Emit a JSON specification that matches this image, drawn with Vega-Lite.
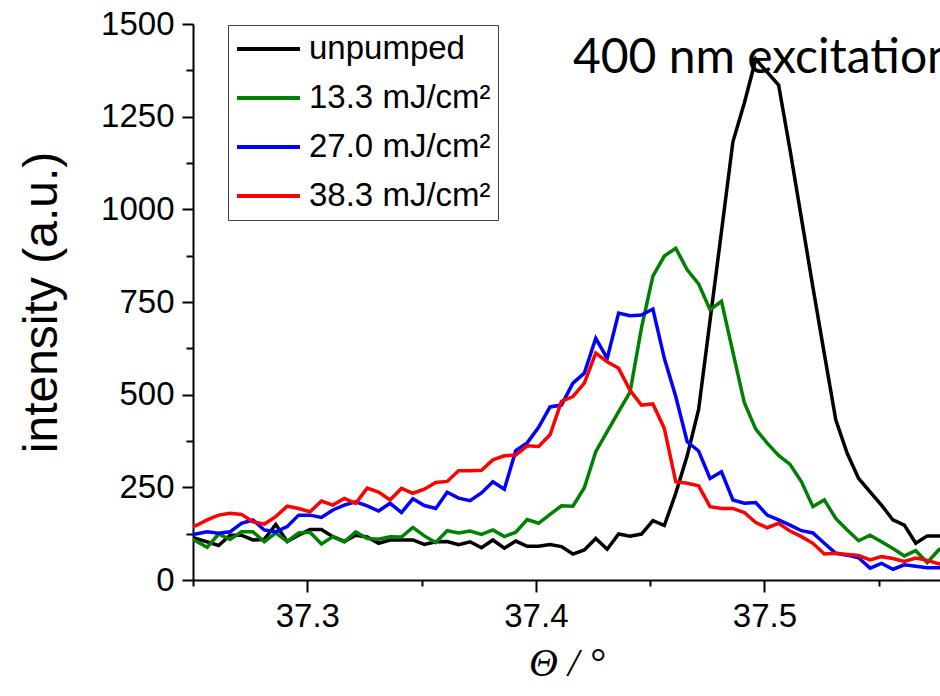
{
  "$schema": "https://vega.github.io/schema/vega-lite/v6.json",
  "width": 747,
  "height": 556,
  "autosize": {"type": "none"},
  "padding": {"left": 193, "top": 24, "right": 0, "bottom": 116},
  "background": "white",
  "config": {
    "view": {"stroke": null},
    "axis": {
      "grid": false,
      "domainColor": "black",
      "domainWidth": 2,
      "tickColor": "black",
      "tickWidth": 2,
      "labelFont": "Liberation Sans",
      "labelFontSize": 33,
      "labelColor": "black",
      "titleColor": "black",
      "titleFontWeight": "normal"
    },
    "legend": {"strokeColor": "#444444", "fillColor": "white"}
  },
  "datasets": {
    "curves": [
      {"theta":37.2462,"intensity":125,"series":"unpumped"},{"theta":37.2512,"intensity":112,"series":"unpumped"},{"theta":37.2562,"intensity":103,"series":"unpumped"},{"theta":37.2612,"intensity":93,"series":"unpumped"},{"theta":37.2662,"intensity":121,"series":"unpumped"},{"theta":37.2712,"intensity":121,"series":"unpumped"},{"theta":37.2762,"intensity":108,"series":"unpumped"},{"theta":37.2812,"intensity":110,"series":"unpumped"},{"theta":37.2862,"intensity":150,"series":"unpumped"},{"theta":37.2912,"intensity":104,"series":"unpumped"},
      {"theta":37.2962,"intensity":121,"series":"unpumped"},{"theta":37.3012,"intensity":136,"series":"unpumped"},{"theta":37.3062,"intensity":136,"series":"unpumped"},{"theta":37.3112,"intensity":117,"series":"unpumped"},{"theta":37.3162,"intensity":104,"series":"unpumped"},{"theta":37.3212,"intensity":121,"series":"unpumped"},{"theta":37.3262,"intensity":116,"series":"unpumped"},{"theta":37.3312,"intensity":99,"series":"unpumped"},{"theta":37.3362,"intensity":108,"series":"unpumped"},{"theta":37.3412,"intensity":108,"series":"unpumped"},
      {"theta":37.3462,"intensity":108,"series":"unpumped"},{"theta":37.3512,"intensity":96,"series":"unpumped"},{"theta":37.3562,"intensity":103,"series":"unpumped"},{"theta":37.3612,"intensity":104,"series":"unpumped"},{"theta":37.3662,"intensity":95,"series":"unpumped"},{"theta":37.3712,"intensity":103,"series":"unpumped"},{"theta":37.3762,"intensity":87,"series":"unpumped"},{"theta":37.3812,"intensity":108,"series":"unpumped"},{"theta":37.3862,"intensity":86,"series":"unpumped"},{"theta":37.3912,"intensity":105,"series":"unpumped"},
      {"theta":37.3962,"intensity":91,"series":"unpumped"},{"theta":37.4012,"intensity":91,"series":"unpumped"},{"theta":37.4062,"intensity":96,"series":"unpumped"},{"theta":37.4112,"intensity":90,"series":"unpumped"},{"theta":37.4162,"intensity":70,"series":"unpumped"},{"theta":37.4212,"intensity":81,"series":"unpumped"},{"theta":37.4262,"intensity":112,"series":"unpumped"},{"theta":37.4312,"intensity":83,"series":"unpumped"},{"theta":37.4362,"intensity":124,"series":"unpumped"},{"theta":37.4412,"intensity":118,"series":"unpumped"},
      {"theta":37.4462,"intensity":124,"series":"unpumped"},{"theta":37.4512,"intensity":160,"series":"unpumped"},{"theta":37.4562,"intensity":147,"series":"unpumped"},{"theta":37.4612,"intensity":234,"series":"unpumped"},{"theta":37.4662,"intensity":335,"series":"unpumped"},{"theta":37.4712,"intensity":460,"series":"unpumped"},{"theta":37.4762,"intensity":700,"series":"unpumped"},{"theta":37.4812,"intensity":940,"series":"unpumped"},{"theta":37.4862,"intensity":1182,"series":"unpumped"},{"theta":37.4912,"intensity":1287,"series":"unpumped"},
      {"theta":37.4962,"intensity":1405,"series":"unpumped"},{"theta":37.5012,"intensity":1370,"series":"unpumped"},{"theta":37.5062,"intensity":1335,"series":"unpumped"},{"theta":37.5112,"intensity":1160,"series":"unpumped"},{"theta":37.5162,"intensity":975,"series":"unpumped"},{"theta":37.5212,"intensity":790,"series":"unpumped"},{"theta":37.5262,"intensity":610,"series":"unpumped"},{"theta":37.5312,"intensity":432,"series":"unpumped"},{"theta":37.5362,"intensity":342,"series":"unpumped"},{"theta":37.5412,"intensity":274,"series":"unpumped"},
      {"theta":37.5462,"intensity":238,"series":"unpumped"},{"theta":37.5512,"intensity":202,"series":"unpumped"},{"theta":37.5562,"intensity":162,"series":"unpumped"},{"theta":37.5612,"intensity":148,"series":"unpumped"},{"theta":37.5662,"intensity":99,"series":"unpumped"},{"theta":37.5712,"intensity":119,"series":"unpumped"},{"theta":37.5762,"intensity":119,"series":"unpumped"},{"theta":37.5812,"intensity":118,"series":"unpumped"},

      {"theta":37.2462,"intensity":120,"series":"13.3 mJ/cm²"},{"theta":37.2512,"intensity":105,"series":"13.3 mJ/cm²"},{"theta":37.2562,"intensity":88,"series":"13.3 mJ/cm²"},{"theta":37.2612,"intensity":124,"series":"13.3 mJ/cm²"},{"theta":37.2662,"intensity":109,"series":"13.3 mJ/cm²"},{"theta":37.2712,"intensity":130,"series":"13.3 mJ/cm²"},{"theta":37.2762,"intensity":130,"series":"13.3 mJ/cm²"},{"theta":37.2812,"intensity":103,"series":"13.3 mJ/cm²"},{"theta":37.2862,"intensity":127,"series":"13.3 mJ/cm²"},{"theta":37.2912,"intensity":104,"series":"13.3 mJ/cm²"},
      {"theta":37.2962,"intensity":127,"series":"13.3 mJ/cm²"},{"theta":37.3012,"intensity":129,"series":"13.3 mJ/cm²"},{"theta":37.3062,"intensity":97,"series":"13.3 mJ/cm²"},{"theta":37.3112,"intensity":117,"series":"13.3 mJ/cm²"},{"theta":37.3162,"intensity":103,"series":"13.3 mJ/cm²"},{"theta":37.3212,"intensity":130,"series":"13.3 mJ/cm²"},{"theta":37.3262,"intensity":112,"series":"13.3 mJ/cm²"},{"theta":37.3312,"intensity":110,"series":"13.3 mJ/cm²"},{"theta":37.3362,"intensity":117,"series":"13.3 mJ/cm²"},{"theta":37.3412,"intensity":116,"series":"13.3 mJ/cm²"},
      {"theta":37.3462,"intensity":142,"series":"13.3 mJ/cm²"},{"theta":37.3512,"intensity":119,"series":"13.3 mJ/cm²"},{"theta":37.3562,"intensity":101,"series":"13.3 mJ/cm²"},{"theta":37.3612,"intensity":133,"series":"13.3 mJ/cm²"},{"theta":37.3662,"intensity":127,"series":"13.3 mJ/cm²"},{"theta":37.3712,"intensity":132,"series":"13.3 mJ/cm²"},{"theta":37.3762,"intensity":123,"series":"13.3 mJ/cm²"},{"theta":37.3812,"intensity":135,"series":"13.3 mJ/cm²"},{"theta":37.3862,"intensity":117,"series":"13.3 mJ/cm²"},{"theta":37.3912,"intensity":129,"series":"13.3 mJ/cm²"},
      {"theta":37.3962,"intensity":163,"series":"13.3 mJ/cm²"},{"theta":37.4012,"intensity":153,"series":"13.3 mJ/cm²"},{"theta":37.4062,"intensity":177,"series":"13.3 mJ/cm²"},{"theta":37.4112,"intensity":200,"series":"13.3 mJ/cm²"},{"theta":37.4162,"intensity":199,"series":"13.3 mJ/cm²"},{"theta":37.4212,"intensity":249,"series":"13.3 mJ/cm²"},{"theta":37.4262,"intensity":346,"series":"13.3 mJ/cm²"},{"theta":37.4312,"intensity":400,"series":"13.3 mJ/cm²"},{"theta":37.4362,"intensity":454,"series":"13.3 mJ/cm²"},{"theta":37.4412,"intensity":507,"series":"13.3 mJ/cm²"},
      {"theta":37.4462,"intensity":680,"series":"13.3 mJ/cm²"},{"theta":37.4512,"intensity":820,"series":"13.3 mJ/cm²"},{"theta":37.4562,"intensity":874,"series":"13.3 mJ/cm²"},{"theta":37.4612,"intensity":895,"series":"13.3 mJ/cm²"},{"theta":37.4662,"intensity":837,"series":"13.3 mJ/cm²"},{"theta":37.4712,"intensity":799,"series":"13.3 mJ/cm²"},{"theta":37.4762,"intensity":729,"series":"13.3 mJ/cm²"},{"theta":37.4812,"intensity":752,"series":"13.3 mJ/cm²"},{"theta":37.4862,"intensity":615,"series":"13.3 mJ/cm²"},{"theta":37.4912,"intensity":478,"series":"13.3 mJ/cm²"},
      {"theta":37.4962,"intensity":407,"series":"13.3 mJ/cm²"},{"theta":37.5012,"intensity":369,"series":"13.3 mJ/cm²"},{"theta":37.5062,"intensity":336,"series":"13.3 mJ/cm²"},{"theta":37.5112,"intensity":312,"series":"13.3 mJ/cm²"},{"theta":37.5162,"intensity":265,"series":"13.3 mJ/cm²"},{"theta":37.5212,"intensity":198,"series":"13.3 mJ/cm²"},{"theta":37.5262,"intensity":216,"series":"13.3 mJ/cm²"},{"theta":37.5312,"intensity":166,"series":"13.3 mJ/cm²"},{"theta":37.5362,"intensity":135,"series":"13.3 mJ/cm²"},{"theta":37.5412,"intensity":106,"series":"13.3 mJ/cm²"},
      {"theta":37.5462,"intensity":121,"series":"13.3 mJ/cm²"},{"theta":37.5512,"intensity":103,"series":"13.3 mJ/cm²"},{"theta":37.5562,"intensity":85,"series":"13.3 mJ/cm²"},{"theta":37.5612,"intensity":65,"series":"13.3 mJ/cm²"},{"theta":37.5662,"intensity":79,"series":"13.3 mJ/cm²"},{"theta":37.5712,"intensity":47,"series":"13.3 mJ/cm²"},{"theta":37.5762,"intensity":81,"series":"13.3 mJ/cm²"},{"theta":37.5812,"intensity":100,"series":"13.3 mJ/cm²"},

      {"theta":37.2462,"intensity":121,"series":"27.0 mJ/cm²"},{"theta":37.2512,"intensity":124,"series":"27.0 mJ/cm²"},{"theta":37.2562,"intensity":130,"series":"27.0 mJ/cm²"},{"theta":37.2612,"intensity":126,"series":"27.0 mJ/cm²"},{"theta":37.2662,"intensity":130,"series":"27.0 mJ/cm²"},{"theta":37.2712,"intensity":153,"series":"27.0 mJ/cm²"},{"theta":37.2762,"intensity":162,"series":"27.0 mJ/cm²"},{"theta":37.2812,"intensity":135,"series":"27.0 mJ/cm²"},{"theta":37.2862,"intensity":130,"series":"27.0 mJ/cm²"},{"theta":37.2912,"intensity":144,"series":"27.0 mJ/cm²"},
      {"theta":37.2962,"intensity":175,"series":"27.0 mJ/cm²"},{"theta":37.3012,"intensity":175,"series":"27.0 mJ/cm²"},{"theta":37.3062,"intensity":169,"series":"27.0 mJ/cm²"},{"theta":37.3112,"intensity":189,"series":"27.0 mJ/cm²"},{"theta":37.3162,"intensity":202,"series":"27.0 mJ/cm²"},{"theta":37.3212,"intensity":211,"series":"27.0 mJ/cm²"},{"theta":37.3262,"intensity":200,"series":"27.0 mJ/cm²"},{"theta":37.3312,"intensity":186,"series":"27.0 mJ/cm²"},{"theta":37.3362,"intensity":207,"series":"27.0 mJ/cm²"},{"theta":37.3412,"intensity":182,"series":"27.0 mJ/cm²"},
      {"theta":37.3462,"intensity":219,"series":"27.0 mJ/cm²"},{"theta":37.3512,"intensity":201,"series":"27.0 mJ/cm²"},{"theta":37.3562,"intensity":193,"series":"27.0 mJ/cm²"},{"theta":37.3612,"intensity":237,"series":"27.0 mJ/cm²"},{"theta":37.3662,"intensity":221,"series":"27.0 mJ/cm²"},{"theta":37.3712,"intensity":214,"series":"27.0 mJ/cm²"},{"theta":37.3762,"intensity":235,"series":"27.0 mJ/cm²"},{"theta":37.3812,"intensity":265,"series":"27.0 mJ/cm²"},{"theta":37.3862,"intensity":245,"series":"27.0 mJ/cm²"},{"theta":37.3912,"intensity":349,"series":"27.0 mJ/cm²"},
      {"theta":37.3962,"intensity":370,"series":"27.0 mJ/cm²"},{"theta":37.4012,"intensity":412,"series":"27.0 mJ/cm²"},{"theta":37.4062,"intensity":467,"series":"27.0 mJ/cm²"},{"theta":37.4112,"intensity":472,"series":"27.0 mJ/cm²"},{"theta":37.4162,"intensity":531,"series":"27.0 mJ/cm²"},{"theta":37.4212,"intensity":558,"series":"27.0 mJ/cm²"},{"theta":37.4262,"intensity":652,"series":"27.0 mJ/cm²"},{"theta":37.4312,"intensity":598,"series":"27.0 mJ/cm²"},{"theta":37.4362,"intensity":720,"series":"27.0 mJ/cm²"},{"theta":37.4412,"intensity":713,"series":"27.0 mJ/cm²"},
      {"theta":37.4462,"intensity":715,"series":"27.0 mJ/cm²"},{"theta":37.4512,"intensity":731,"series":"27.0 mJ/cm²"},{"theta":37.4562,"intensity":598,"series":"27.0 mJ/cm²"},{"theta":37.4612,"intensity":495,"series":"27.0 mJ/cm²"},{"theta":37.4662,"intensity":373,"series":"27.0 mJ/cm²"},{"theta":37.4712,"intensity":348,"series":"27.0 mJ/cm²"},{"theta":37.4762,"intensity":274,"series":"27.0 mJ/cm²"},{"theta":37.4812,"intensity":292,"series":"27.0 mJ/cm²"},{"theta":37.4862,"intensity":216,"series":"27.0 mJ/cm²"},{"theta":37.4912,"intensity":207,"series":"27.0 mJ/cm²"},
      {"theta":37.4962,"intensity":209,"series":"27.0 mJ/cm²"},{"theta":37.5012,"intensity":175,"series":"27.0 mJ/cm²"},{"theta":37.5062,"intensity":162,"series":"27.0 mJ/cm²"},{"theta":37.5112,"intensity":148,"series":"27.0 mJ/cm²"},{"theta":37.5162,"intensity":133,"series":"27.0 mJ/cm²"},{"theta":37.5212,"intensity":127,"series":"27.0 mJ/cm²"},{"theta":37.5262,"intensity":99,"series":"27.0 mJ/cm²"},{"theta":37.5312,"intensity":72,"series":"27.0 mJ/cm²"},{"theta":37.5362,"intensity":67,"series":"27.0 mJ/cm²"},{"theta":37.5412,"intensity":60,"series":"27.0 mJ/cm²"},
      {"theta":37.5462,"intensity":32,"series":"27.0 mJ/cm²"},{"theta":37.5512,"intensity":45,"series":"27.0 mJ/cm²"},{"theta":37.5562,"intensity":29,"series":"27.0 mJ/cm²"},{"theta":37.5612,"intensity":41,"series":"27.0 mJ/cm²"},{"theta":37.5662,"intensity":37,"series":"27.0 mJ/cm²"},{"theta":37.5712,"intensity":33,"series":"27.0 mJ/cm²"},{"theta":37.5762,"intensity":33,"series":"27.0 mJ/cm²"},{"theta":37.5812,"intensity":33,"series":"27.0 mJ/cm²"},

      {"theta":37.2462,"intensity":145,"series":"38.3 mJ/cm²"},{"theta":37.2512,"intensity":146,"series":"38.3 mJ/cm²"},{"theta":37.2562,"intensity":162,"series":"38.3 mJ/cm²"},{"theta":37.2612,"intensity":175,"series":"38.3 mJ/cm²"},{"theta":37.2662,"intensity":180,"series":"38.3 mJ/cm²"},{"theta":37.2712,"intensity":177,"series":"38.3 mJ/cm²"},{"theta":37.2762,"intensity":157,"series":"38.3 mJ/cm²"},{"theta":37.2812,"intensity":151,"series":"38.3 mJ/cm²"},{"theta":37.2862,"intensity":171,"series":"38.3 mJ/cm²"},{"theta":37.2912,"intensity":199,"series":"38.3 mJ/cm²"},
      {"theta":37.2962,"intensity":193,"series":"38.3 mJ/cm²"},{"theta":37.3012,"intensity":184,"series":"38.3 mJ/cm²"},{"theta":37.3062,"intensity":213,"series":"38.3 mJ/cm²"},{"theta":37.3112,"intensity":202,"series":"38.3 mJ/cm²"},{"theta":37.3162,"intensity":220,"series":"38.3 mJ/cm²"},{"theta":37.3212,"intensity":207,"series":"38.3 mJ/cm²"},{"theta":37.3262,"intensity":248,"series":"38.3 mJ/cm²"},{"theta":37.3312,"intensity":237,"series":"38.3 mJ/cm²"},{"theta":37.3362,"intensity":216,"series":"38.3 mJ/cm²"},{"theta":37.3412,"intensity":247,"series":"38.3 mJ/cm²"},
      {"theta":37.3462,"intensity":234,"series":"38.3 mJ/cm²"},{"theta":37.3512,"intensity":245,"series":"38.3 mJ/cm²"},{"theta":37.3562,"intensity":263,"series":"38.3 mJ/cm²"},{"theta":37.3612,"intensity":266,"series":"38.3 mJ/cm²"},{"theta":37.3662,"intensity":295,"series":"38.3 mJ/cm²"},{"theta":37.3712,"intensity":295,"series":"38.3 mJ/cm²"},{"theta":37.3762,"intensity":296,"series":"38.3 mJ/cm²"},{"theta":37.3812,"intensity":324,"series":"38.3 mJ/cm²"},{"theta":37.3862,"intensity":335,"series":"38.3 mJ/cm²"},{"theta":37.3912,"intensity":337,"series":"38.3 mJ/cm²"},
      {"theta":37.3962,"intensity":362,"series":"38.3 mJ/cm²"},{"theta":37.4012,"intensity":360,"series":"38.3 mJ/cm²"},{"theta":37.4062,"intensity":392,"series":"38.3 mJ/cm²"},{"theta":37.4112,"intensity":482,"series":"38.3 mJ/cm²"},{"theta":37.4162,"intensity":495,"series":"38.3 mJ/cm²"},{"theta":37.4212,"intensity":531,"series":"38.3 mJ/cm²"},{"theta":37.4262,"intensity":612,"series":"38.3 mJ/cm²"},{"theta":37.4312,"intensity":589,"series":"38.3 mJ/cm²"},{"theta":37.4362,"intensity":571,"series":"38.3 mJ/cm²"},{"theta":37.4412,"intensity":512,"series":"38.3 mJ/cm²"},
      {"theta":37.4462,"intensity":472,"series":"38.3 mJ/cm²"},{"theta":37.4512,"intensity":475,"series":"38.3 mJ/cm²"},{"theta":37.4562,"intensity":409,"series":"38.3 mJ/cm²"},{"theta":37.4612,"intensity":265,"series":"38.3 mJ/cm²"},{"theta":37.4662,"intensity":261,"series":"38.3 mJ/cm²"},{"theta":37.4712,"intensity":254,"series":"38.3 mJ/cm²"},{"theta":37.4762,"intensity":198,"series":"38.3 mJ/cm²"},{"theta":37.4812,"intensity":193,"series":"38.3 mJ/cm²"},{"theta":37.4862,"intensity":193,"series":"38.3 mJ/cm²"},{"theta":37.4912,"intensity":182,"series":"38.3 mJ/cm²"},
      {"theta":37.4962,"intensity":155,"series":"38.3 mJ/cm²"},{"theta":37.5012,"intensity":141,"series":"38.3 mJ/cm²"},{"theta":37.5062,"intensity":153,"series":"38.3 mJ/cm²"},{"theta":37.5112,"intensity":132,"series":"38.3 mJ/cm²"},{"theta":37.5162,"intensity":117,"series":"38.3 mJ/cm²"},{"theta":37.5212,"intensity":99,"series":"38.3 mJ/cm²"},{"theta":37.5262,"intensity":70,"series":"38.3 mJ/cm²"},{"theta":37.5312,"intensity":72,"series":"38.3 mJ/cm²"},{"theta":37.5362,"intensity":69,"series":"38.3 mJ/cm²"},{"theta":37.5412,"intensity":66,"series":"38.3 mJ/cm²"},
      {"theta":37.5462,"intensity":54,"series":"38.3 mJ/cm²"},{"theta":37.5512,"intensity":63,"series":"38.3 mJ/cm²"},{"theta":37.5562,"intensity":58,"series":"38.3 mJ/cm²"},{"theta":37.5612,"intensity":50,"series":"38.3 mJ/cm²"},{"theta":37.5662,"intensity":59,"series":"38.3 mJ/cm²"},{"theta":37.5712,"intensity":53,"series":"38.3 mJ/cm²"},{"theta":37.5762,"intensity":44,"series":"38.3 mJ/cm²"},{"theta":37.5812,"intensity":40,"series":"38.3 mJ/cm²"}
    ],
    "note": [{"theta": 37.4162, "intensity": 1368, "label": "400 nm excitation"}]
  },
  "layer": [
    {
      "data": {"name": "curves"},
      "mark": {"type": "line", "strokeWidth": 3.5, "clip": true},
      "encoding": {
        "x": {
          "field": "theta",
          "type": "quantitative",
          "scale": {"domain": [37.25, 37.5768], "nice": false, "zero": false},
          "axis": {
            "values": [37.25, 37.3, 37.35, 37.4, 37.45, 37.5, 37.55],
            "labelExpr": "abs(datum.value*10 - round(datum.value*10)) < 0.001 ? format(datum.value, '.1f') : ''",
            "tickSize": {"condition": {"test": "abs(datum.value*10 - round(datum.value*10)) < 0.001", "value": 12}, "value": 6},
            "labelPadding": 8,
            "labelFlush": false,
            "labelOverlap": false,
            "title": "Θ / °",
            "titleFont": "Liberation Serif",
            "titleFontStyle": "italic",
            "titleFontSize": 40,
            "titlePadding": 10
          }
        },
        "y": {
          "field": "intensity",
          "type": "quantitative",
          "scale": {"domain": [0, 1500], "nice": false},
          "axis": {
            "values": [0, 125, 250, 375, 500, 625, 750, 875, 1000, 1125, 1250, 1375, 1500],
            "labelExpr": "datum.value % 250 === 0 ? format(datum.value, 'd') : ''",
            "tickSize": {"condition": {"test": "datum.value % 250 === 0", "value": 11}, "value": 7},
            "labelPadding": 8,
            "labelFlush": false,
            "labelOverlap": false,
            "title": "intensity (a.u.)",
            "titleFont": "Liberation Sans",
            "titleFontSize": 48,
            "titlePadding": 34
          }
        },
        "color": {
          "field": "series",
          "type": "nominal",
          "sort": null,
          "scale": {
            "domain": ["unpumped", "13.3 mJ/cm²", "27.0 mJ/cm²", "38.3 mJ/cm²"],
            "range": ["#000000", "#008000", "#0000ff", "#ff0000"]
          },
          "legend": {
            "orient": "none",
            "legendX": 35,
            "legendY": 1,
            "title": null,
            "symbolType": "stroke",
            "symbolSize": 3969,
            "symbolStrokeWidth": 4,
            "labelFont": "Liberation Sans",
            "labelFontSize": 33,
            "labelColor": "black",
            "labelLimit": 0,
            "labelOffset": 7,
            "clipHeight": 34,
            "rowPadding": 15,
            "padding": 7
          }
        }
      }
    },
    {
      "data": {"name": "note"},
      "mark": {"type": "text", "font": "Lato", "fontSize": 48, "align": "left", "baseline": "alphabetic", "color": "black"},
      "encoding": {
        "x": {"field": "theta", "type": "quantitative"},
        "y": {"field": "intensity", "type": "quantitative"},
        "text": {"field": "label"}
      }
    }
  ]
}
